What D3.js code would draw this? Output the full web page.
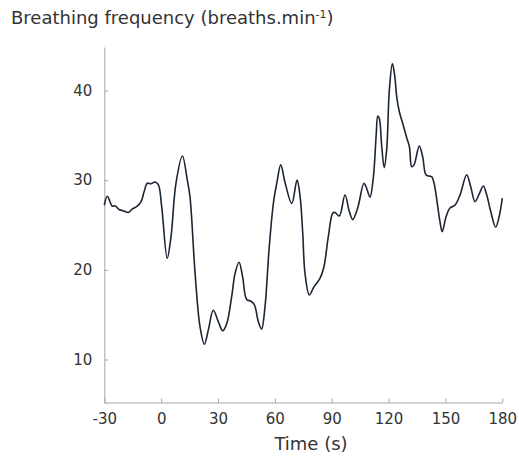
<!DOCTYPE html>
<html>
<head>
<meta charset="utf-8">
<script src="https://cdn.jsdelivr.net/npm/d3@7"></script>
<style>
  html, body { margin: 0; padding: 0; background: #fff; }
  svg { display: block; }
  text { font-family: "DejaVu Sans", Verdana, sans-serif; }
</style>
</head>
<body>
<svg id="chart" width="519" height="457"></svg>
<script>
const times = [-30, -28.4, -25.8, -24.4, -22, -20, -17.3, -15.2, -12.6, -10.6, -9, -7.3, -5.4, -3.3, -1.5, 0.3, 3.2, 5.2, 7.8, 11.2, 13.8, 15.2, 17.9, 20.5, 22.8, 24.9, 27.5, 30.2, 32.5, 34.6, 37.2, 39, 41.1, 43, 45.1, 47.4, 49.2, 51.3, 53, 54.8, 56.9, 59.2, 61, 63.1, 65.3, 68.9, 71.7, 73.3, 74.7, 75.9, 78.2, 80.6, 83.8, 85.9, 88.2, 90.5, 91.7, 94, 97, 99.3, 101.1, 103.7, 107, 108.4, 110.2, 112, 113.5, 114.3, 115.1, 116.4, 117.7, 119, 120.4, 122, 123.2, 124.3, 125.7, 127.5, 129.6, 131, 132.2, 133.4, 136.2, 138, 139.7, 141.5, 142.7, 144, 145.7, 147.1, 148.3, 150.3, 152.4, 155, 157.7, 161.2, 163.3, 165.6, 167.9, 170, 171.8, 173.9, 176.5, 178.4, 180];
const frequency = [27.2, 28.2, 27.1, 27.15, 26.7, 26.6, 26.4, 26.8, 27.1, 27.6, 28.7, 29.65, 29.6, 29.8, 29.5, 27.0, 21.3, 23.7, 29.65, 32.7, 30.0, 28.2, 19.6, 13.65, 11.7, 13.3, 15.5, 14.2, 13.2, 14.0, 17.0, 19.6, 20.85, 19.2, 16.7, 16.5, 16.1, 14.2, 13.4, 15.9, 22.2, 27.4, 29.65, 31.7, 29.8, 27.4, 30.0, 28.2, 24.1, 19.6, 17.2, 18.1, 19.05, 20.35, 23.7, 26.3, 26.4, 26.0, 28.35, 26.5, 25.6, 26.9, 29.65, 29.1, 28.1, 30.4, 35.2, 37.15, 36.9, 33.7, 31.4, 33.4, 40.05, 43.0, 41.7, 39.3, 37.6, 36.3, 34.7, 33.7, 31.5, 31.7, 33.8, 32.6, 30.6, 30.45, 30.4, 29.65, 27.4, 25.4, 24.25, 25.9, 26.9, 27.2, 28.35, 30.6, 29.3, 27.6, 28.5, 29.35, 28.35, 26.5, 24.75, 26.0, 28.0];
const xTicks = [-30, 0, 30, 60, 90, 120, 150, 180];
const yTicks = [10, 20, 30, 40];
const yTitle = "Breathing frequency (breaths.min";
const xTitle = "Time (s)";

const svg = d3.select("#chart");
const x = d3.scaleLinear().domain([-30, 180]).range([104.3, 502.3]);
const y = d3.scaleLinear().domain([5.15, 44.85]).range([403, 47]);

const axisColor = "#a6a6a6";
const labelColor = "#333";
const fmt = d => String(d);

const gx = svg.append("g").attr("transform", "translate(0,402.5)")
  .call(d3.axisBottom(x).tickValues(xTicks).tickFormat(fmt).tickSizeInner(-4).tickSizeOuter(0).tickPadding(11));
const gy = svg.append("g").attr("transform", "translate(104.3,0)")
  .call(d3.axisLeft(y).tickValues(yTicks).tickFormat(fmt).tickSizeInner(-4).tickSizeOuter(0).tickPadding(12));

[gx, gy].forEach(g => {
  g.select(".domain").attr("stroke", axisColor).attr("stroke-width", 1);
  g.selectAll(".tick line").attr("stroke", axisColor);
  g.selectAll(".tick text").attr("fill", labelColor).style("font-size", "15px")
    .style("font-family", '"DejaVu Sans", Verdana, sans-serif');
});

const line = d3.line()
  .x((d, i) => x(times[i]))
  .y(d => y(d))
  .curve(d3.curveCatmullRom.alpha(0.5));

svg.append("path")
  .datum(frequency)
  .attr("fill", "none")
  .attr("stroke", "#1c2533")
  .attr("stroke-width", 1.6)
  .attr("stroke-linejoin", "round")
  .attr("d", line);

const t = svg.append("text")
  .attr("x", 11).attr("y", 24)
  .attr("fill", labelColor)
  .style("font-size", "18px");
t.append("tspan").text(yTitle);
t.append("tspan").attr("dy", -6).style("font-size", "11px").text("-1");
t.append("tspan").attr("dy", 6).text(")");

svg.append("text")
  .attr("x", 311).attr("y", 450)
  .attr("text-anchor", "middle")
  .attr("fill", labelColor)
  .style("font-size", "18px")
  .text(xTitle);
</script>
</body>
</html>
